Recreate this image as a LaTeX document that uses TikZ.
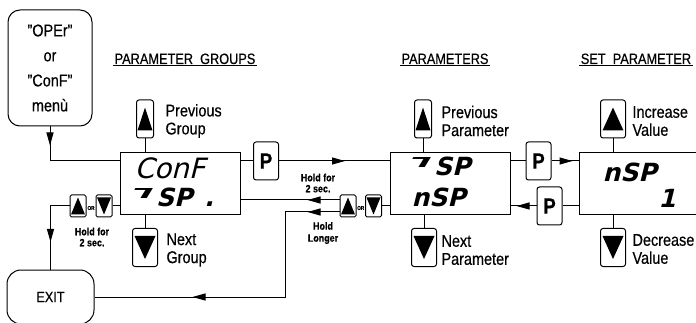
\documentclass[tikz,border=0pt]{standalone}
\usepackage{fontspec}
\usepackage{graphicx}
\setmainfont[FakeStretch=0.85,FakeBold=0.5]{Liberation Sans}
\newfontfamily\lcd[FakeSlant=0.25]{DejaVu Sans}
\usetikzlibrary{arrows.meta,positioning,calc,decorations.markings}

% turned half L, as the display shows it
\newcommand{\segj}{\raisebox{0.3em}{\rotatebox[origin=c]{180}{\scalebox{1.35}[0.55]{L}}}}
% filled triangles inside the keys
\newcommand{\uptri}[3]{\fill ($(#3.north)+(0,#1)$) -- ($(#3.south west)+(#2,-#1)$) -- ($(#3.south east)+(-#2,-#1)$) -- cycle;}
\newcommand{\dntri}[3]{\fill ($(#3.south)+(0,-#1)$) -- ($(#3.north west)+(#2,#1)$) -- ($(#3.north east)+(-#2,#1)$) -- cycle;}

\tikzset{
  disp/.style={draw, minimum width=120pt, minimum height=62pt, inner sep=0pt},
  key/.style={draw, rounded corners=2.5pt, minimum width=25pt, minimum height=38pt, inner sep=0pt},
  narrowkey/.style={key, minimum width=17pt},
  smallkey/.style={draw, rounded corners=1.5pt, minimum width=16pt, minimum height=22pt, inner sep=0pt},
  pkey/.style={key, font=\fontsize{22}{22}\selectfont\bfseries},
  lbl/.style={anchor=west, align=left, inner sep=0pt, font=\fontsize{17}{18}\selectfont},
  title/.style={anchor=base, inner sep=1pt, font=\fontsize{15}{15}\selectfont},
  tiny/.style={inner sep=0pt, align=center, font=\fontsize{10.5}{11}\selectfont\bfseries},
  lcdtext/.style={anchor=west, inner sep=0pt, font=\lcd\bfseries\fontsize{25}{25}\selectfont},
  arr/.style={postaction={decorate, decoration={markings, mark=at position #1 with {\arrow{Triangle[length=13pt,width=7pt]}}}}},
}

\begin{document}
\begin{tikzpicture}[x=1pt, y=-1pt, line width=1pt]
\clip (0,0) rectangle (696,323);

% start and exit
\node[draw, rounded corners=12pt, minimum width=84pt, minimum height=116pt, align=center,
  font=\fontsize{17}{25}\selectfont] (menu) at (50,68) {"OPEr"\\or\\"ConF"\\menù};
\node[draw, rounded corners=14pt, minimum width=87pt, minimum height=54pt,
  font=\fontsize{15}{15}\selectfont] (exit) at (50.5,297) {EXIT};

% titles
\node[title] (tgrp) at (185,64) {PARAMETER\ \ GROUPS};
\node[title] (tpar) at (445,64) {PARAMETERS};
\node[title] (tset) at (636,64) {SET\ \ PARAMETER};
\draw (tgrp.south west) -- (tgrp.south east);
\draw (tpar.south west) -- (tpar.south east);
\draw (tset.south west) -- (tset.south east);

% displays
\node[disp] (grp) at (180,183.5) {};
\node[disp] (par) at (450,183.5) {};
\node[disp, minimum width=140pt] (set) at (649,183.5) {};
\node[anchor=west, inner sep=0pt, font=\lcd\fontsize{28}{28}\selectfont] (grptop) at (134,168) {ConF};
\node[lcdtext] (grpbot) at (134,197) {\segj SP\hspace{12pt}.};
\node[lcdtext] (partop) at (412,166) {\segj SP};
\node[lcdtext] (parbot) at (411,197) {nSP};
\node[lcdtext] (settop) at (602,172) {nSP};
\node[lcdtext, anchor=center] (setbot) at (667,198) {1};

% keys
\node[narrowkey] (pg) at (145,119) {};
\node[key] (ng) at (145,247.5) {};
\node[narrowkey] (pp) at (423,119) {};
\node[key] (np) at (424,247.5) {};
\node[key] (iv) at (613,119) {};
\node[key] (dv) at (613,247.5) {};
\node[pkey] (pk1) at (266,161) {P};
\node[pkey] (pk2) at (538.5,161) {P};
\node[pkey] (pk3) at (549.5,206) {P};
\node[smallkey] (lu) at (78,206) {};
\node[smallkey] (ld) at (104,206) {};
\node[smallkey] (mu) at (348,206) {};
\node[smallkey] (md) at (373.5,206) {};
\node[inner sep=0pt, font=\fontsize{5.5}{6}\selectfont\bfseries] (lor) at ($(lu)!0.5!(ld)+(0,2)$) {OR};
\node[inner sep=0pt, font=\fontsize{5.5}{6}\selectfont\bfseries] (mor) at ($(mu)!0.5!(md)+(0,2)$) {OR};
\uptri{8}{1.5}{pg}
\dntri{8}{2.5}{ng}
\uptri{8}{1.5}{pp}
\dntri{8}{2.5}{np}
\uptri{8}{2.5}{iv}
\dntri{8}{2.5}{dv}
\uptri{3}{1.5}{lu}
\dntri{3}{1.5}{ld}
\uptri{3}{1.5}{mu}
\dntri{3}{1.5}{md}

% key labels
\node[lbl] (pgl) at (165,121) {Previous\\Group};
\node[lbl] (ngl) at (166,250) {Next\\Group};
\node[lbl] (ppl) at (441,121) {Previous\\Parameter};
\node[lbl] (npl) at (441,250) {Next\\Parameter};
\node[lbl] (ivl) at (632,121) {Increase\\Value};
\node[lbl] (dvl) at (632,249) {Decrease\\Value};
\node[tiny] (hl1) at (92,237) {Hold for\\2 sec.};
\node[tiny] (hl2) at (318,183) {Hold for\\2 sec.};
\node[tiny, font=\fontsize{10.5}{12}\selectfont\bfseries] (hl3) at (323,233) {Hold\\Longer};

% keys to displays
\draw (pg.south) -- (pg.south |- grp.north);
\draw (ng.north) -- (ng.north |- grp.south);
\draw (pp.south) -- (pp.south |- par.north);
\draw (np.north) -- (np.north |- par.south);
\draw (iv.south) -- (iv.south |- set.north);
\draw (dv.north) -- (dv.north |- set.south);

% flow
\coordinate (hold) at ([yshift=6pt]mu.west);
\coordinate (longer) at ([yshift=-6pt]mu.west);
\coordinate (bend) at (285,297);
\draw[arr=19pt] (menu.south) |- (grp.west |- pk1);
\draw (grp.east |- pk1) -- (pk1.west);
\draw[arr=66pt] (pk1.east) -- (par.west |- pk1);
\draw (par.east |- pk2) -- (pk2.west);
\draw[arr=21pt] (pk2.east) -- (set.west |- pk2);
\draw (set.west |- pk3) -- (pk3.east);
\draw[arr=20pt] (pk3.west) -- (par.east |- pk3);
\draw (md.east) -- (par.west |- md);
\draw[arr=32pt] (hold) -- (grp.east |- hold);
\draw[arr=32pt, arr=232pt] (longer) -| (bend) -- (exit.east);
\draw (grp.west |- ld) -- (ld.east);
\draw[arr=55pt] (lu.west) -| (exit.north);
\end{tikzpicture}
\end{document}
